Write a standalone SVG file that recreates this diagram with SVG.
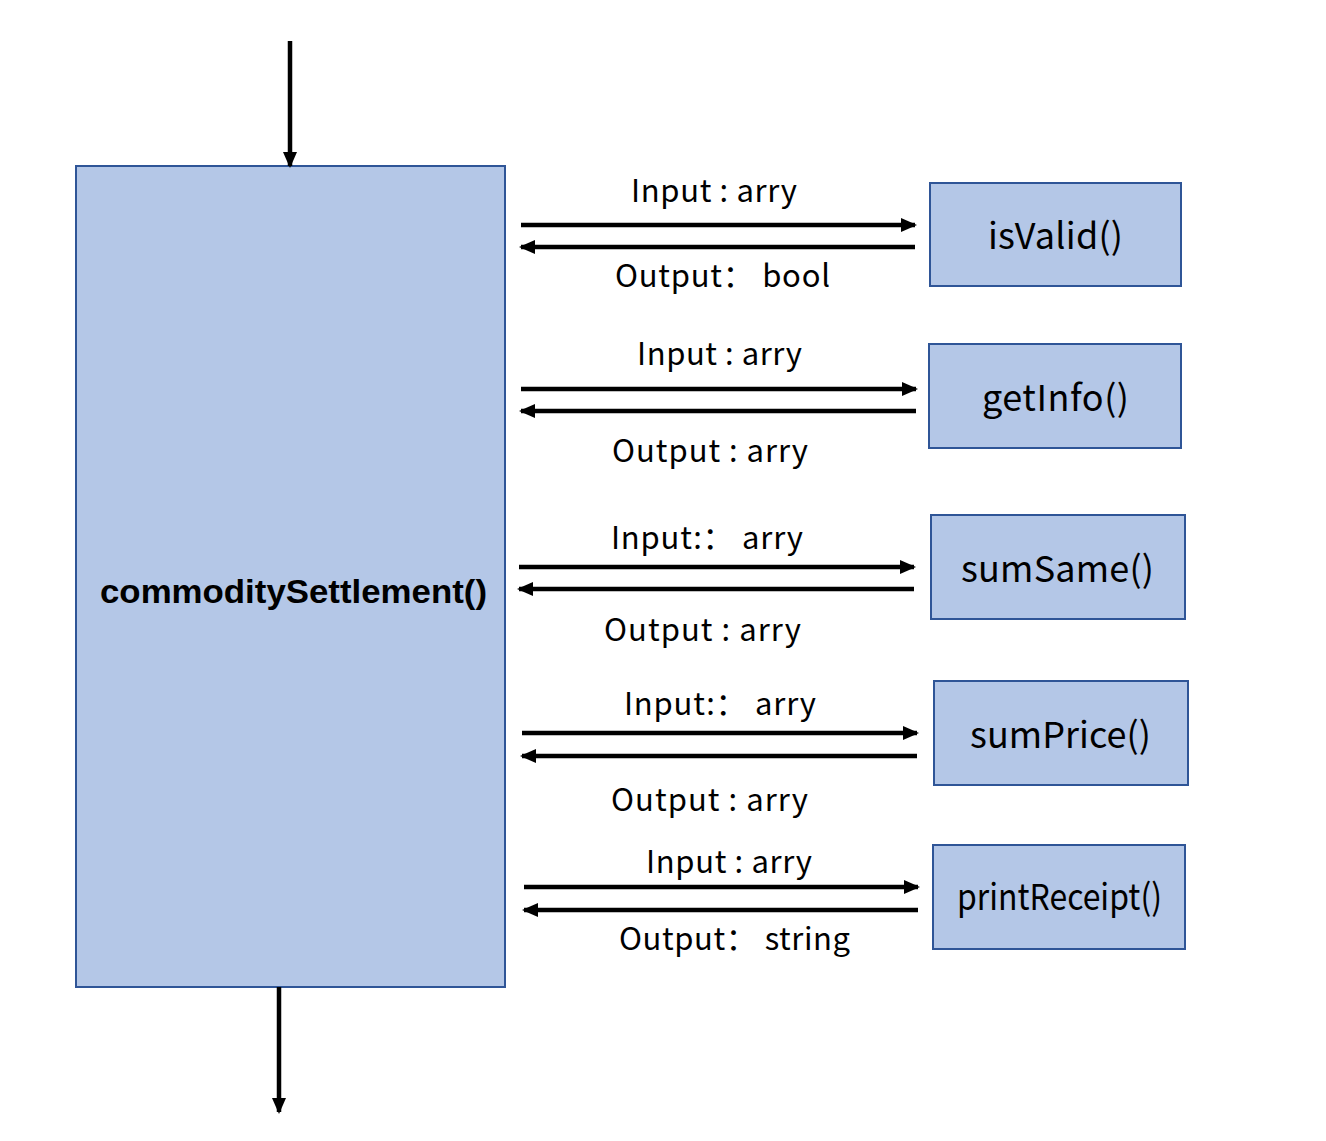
<svg xmlns="http://www.w3.org/2000/svg" width="1326" height="1141" viewBox="0 0 1326 1141">
<style>
.box{fill:#B4C7E7;stroke:#2F5597;stroke-width:2}
.lbl{font-family:"Noto Sans CJK SC","Open Sans",sans-serif;font-size:31px;fill:#000}
.fn{font-family:"Noto Sans CJK SC","Open Sans",sans-serif;font-size:36px;fill:#000}
.ln{stroke:#000;stroke-width:4.5;fill:none;marker-end:url(#ah)}
</style>
<defs>
<marker id="ah" markerUnits="userSpaceOnUse" markerWidth="16" markerHeight="14" refX="14" refY="7" orient="auto">
<path d="M0,0 L16,7 L0,14 Z" fill="#000"/>
</marker>
</defs>
<rect width="1326" height="1141" fill="#fff"/>
<g id="main"><rect class="box" x="76" y="166" width="429" height="821"/>
<text x="100" y="603" font-family="'Liberation Sans',Arial,sans-serif" font-weight="bold" font-size="34" textLength="387" lengthAdjust="spacingAndGlyphs">commoditySettlement()</text></g>
<g id="isValid"><rect class="box" x="930" y="183" width="251" height="103"/><text class="fn" x="988" y="249" textLength="135">isValid()</text></g>
<g id="getInfo"><rect class="box" x="929" y="344" width="252" height="104"/><text class="fn" x="982" y="411" textLength="147">getInfo()</text></g>
<g id="sumSame"><rect class="box" x="931" y="515" width="254" height="104"/><text class="fn" x="961" y="582" textLength="193">sumSame()</text></g>
<g id="sumPrice"><rect class="box" x="934" y="681" width="254" height="104"/><text class="fn" x="970" y="748" textLength="181">sumPrice()</text></g>
<g id="printReceipt"><rect class="box" x="933" y="845" width="252" height="104"/><text class="fn" x="957" y="910" font-size="29" textLength="205" lengthAdjust="spacingAndGlyphs">printReceipt()</text></g>
<g id="connectors">
<line class="ln" x1="290" y1="41" x2="290" y2="166"/>
<line class="ln" x1="279" y1="987" x2="279" y2="1112"/>
<line class="ln" x1="521" y1="225" x2="915" y2="225"/>
<line class="ln" x1="915" y1="247" x2="521" y2="247"/>
<line class="ln" x1="521" y1="389" x2="916" y2="389"/>
<line class="ln" x1="916" y1="411" x2="521" y2="411"/>
<line class="ln" x1="519" y1="567" x2="914" y2="567"/>
<line class="ln" x1="914" y1="589" x2="519" y2="589"/>
<line class="ln" x1="522" y1="733" x2="917" y2="733"/>
<line class="ln" x1="917" y1="756" x2="522" y2="756"/>
<line class="ln" x1="524" y1="887" x2="918" y2="887"/>
<line class="ln" x1="918" y1="910" x2="524" y2="910"/>
</g>
<g id="labels">
<text class="lbl" x="631" y="202" textLength="166">Input : arry</text>
<text class="lbl" x="615" y="287" textLength="215">Output：  bool</text>
<text class="lbl" x="637" y="365" textLength="165">Input : arry</text>
<text class="lbl" x="612" y="462" textLength="196">Output : arry</text>
<text class="lbl" x="611" y="549" textLength="192">Input:：  arry</text>
<text class="lbl" x="604" y="641" textLength="197">Output : arry</text>
<text class="lbl" x="624" y="715" textLength="192">Input:：  arry</text>
<text class="lbl" x="611" y="811" textLength="197">Output : arry</text>
<text class="lbl" x="646" y="873" textLength="166">Input : arry</text>
<text class="lbl" x="619" y="950" textLength="231">Output：  string</text>
</g>
</svg>
